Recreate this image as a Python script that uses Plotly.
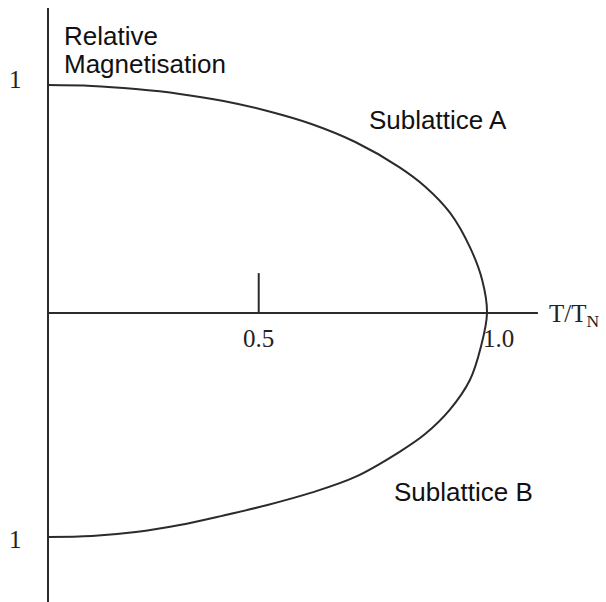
import plotly.graph_objects as go

# Reduced temperature T/T_N and relative magnetisation
t_a = [0.0, 0.1, 0.2, 0.3, 0.4, 0.5, 0.6, 0.7, 0.8, 0.86, 0.916, 0.961, 0.989, 1.0]
m_a = [1.0, 0.996, 0.982, 0.961, 0.93, 0.886, 0.829, 0.75, 0.64, 0.553, 0.439, 0.289, 0.145, 0.0]

t_b = [0.0, 0.1, 0.2, 0.3, 0.4, 0.5, 0.6, 0.7, 0.8, 0.859, 0.915, 0.961, 0.986, 1.0]
m_b = [-0.982, -0.978, -0.961, -0.93, -0.888, -0.842, -0.788, -0.719, -0.61, -0.531, -0.425, -0.294,
       -0.149, 0.0]

x_tick_vals = [0.48, 1.027]
x_tick_text = ["0.5", "1.0"]
y_tick_vals = [1.022, -0.995]
y_tick_text = ["1", "1"]

LINE = "#2b2b2b"
SERIF = "Liberation Serif"
SANS = "Liberation Sans"

# one continuous curve: sublattice A out to T_N, then back along sublattice B
curve_t = t_a + t_b[-2::-1]
curve_m = m_a + m_b[-2::-1]

fig = go.Figure()
fig.add_trace(go.Scatter(x=curve_t, y=curve_m, mode="lines",
                         line=dict(color=LINE, width=2, shape="spline", smoothing=1.0),
                         name="Sublattice A / B", hoverinfo="skip"))

# axes drawn as lines through the origin
fig.add_shape(type="line", x0=0, x1=0, y0=-1.28, y1=1.338, line=dict(color=LINE, width=2))
fig.add_shape(type="line", x0=0, x1=1.116, y0=0, y1=0, line=dict(color=LINE, width=2))
# tick at 0.5
fig.add_shape(type="line", x0=x_tick_vals[0], x1=x_tick_vals[0], y0=0, y1=0.175,
              line=dict(color=LINE, width=2))

annotations = []
for xv, txt in zip(x_tick_vals, x_tick_text):
    annotations.append(dict(x=xv, y=-0.112, text=txt, showarrow=False, xanchor="center", yanchor="middle",
                            font=dict(family=SERIF, size=25, color="#222")))
for yv, txt in zip(y_tick_vals, y_tick_text):
    annotations.append(dict(x=-0.073, y=yv, text=txt, showarrow=False, xanchor="center", yanchor="middle",
                            font=dict(family=SERIF, size=25, color="#222")))
annotations.append(dict(x=1.136, y=-0.013, text="T/T<sub>N</sub>", showarrow=False, xanchor="left",
                        yanchor="middle", font=dict(family=SERIF, size=25, color="#222")))
annotations.append(dict(x=0.032, y=1.215, text="Relative", showarrow=False, xanchor="left",
                        yanchor="middle", font=dict(family=SANS, size=26, color="#111")))
annotations.append(dict(x=0.032, y=1.09, text="Magnetisation", showarrow=False, xanchor="left",
                        yanchor="middle", font=dict(family=SANS, size=26, color="#111")))
annotations.append(dict(x=0.888, y=0.845, text="Sublattice A", showarrow=False, xanchor="center",
                        yanchor="middle", font=dict(family=SANS, size=26, color="#111")))
annotations.append(dict(x=0.947, y=-0.785, text="Sublattice B", showarrow=False, xanchor="center",
                        yanchor="middle", font=dict(family=SANS, size=26, color="#111")))

fig.update_layout(
    width=606, height=602,
    margin=dict(l=0, r=0, t=0, b=0),
    paper_bgcolor="white", plot_bgcolor="white",
    showlegend=False,
    annotations=annotations,
    xaxis=dict(range=[-48 / 439, 558 / 439], visible=False, fixedrange=True),
    yaxis=dict(range=[-289 / 228, 313 / 228], visible=False, fixedrange=True),
)

fig.write_html("out.html", config={"displayModeBar": False},
               post_script="document.body.style.margin='0';")
